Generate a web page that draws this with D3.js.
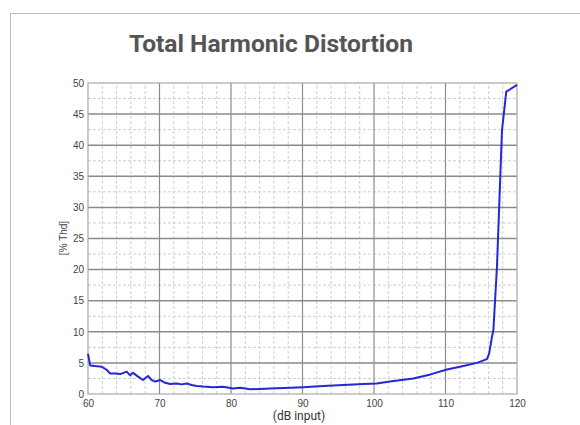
<!DOCTYPE html>
<html>
<head>
<meta charset="utf-8">
<script src="https://cdn.jsdelivr.net/npm/d3@7"></script>
<style>
  body { margin: 0; background: #fff; }
  svg { display: block; }
</style>
</head>
<body>
<div id="chart"></div>
<script>
const title = "Total Harmonic Distortion";
const xLabel = "(dB input)";
const yLabel = "[% Thd]";
const xTicks = [60, 70, 80, 90, 100, 110, 120];
const yTicks = [0, 5, 10, 15, 20, 25, 30, 35, 40, 45, 50];

// curve: input level (dB) and THD (%)
const dbInput = [60, 60.3, 61, 61.9, 62.6, 63.1, 63.8, 64.5, 65.4, 65.9, 66.3, 67.0, 67.7,
  68.4, 68.9, 69.4, 70.1, 70.8, 71.5, 72.4, 73.1, 73.8, 74.5, 75.2, 76.1, 77.5, 78.9, 80.3,
  81.3, 82.7, 85.5, 88.3, 90.1, 92.9, 95.7, 98.5, 100.4, 102.2, 105.5, 107.9, 110.2, 112.5,
  114.4, 115.8, 116.1, 116.5, 116.7, 117.2, 117.9, 118.5, 120];
const thd = [6.5, 4.6, 4.5, 4.4, 3.9, 3.3, 3.3, 3.2, 3.6, 3.0, 3.4, 2.8, 2.25,
  2.9, 2.25, 2.0, 2.25, 1.8, 1.6, 1.7, 1.55, 1.7, 1.45, 1.3, 1.2, 1.1, 1.15, 0.9,
  1.0, 0.75, 0.9, 1.0, 1.1, 1.3, 1.45, 1.6, 1.7, 2.0, 2.5, 3.15, 3.95, 4.5,
  5.0, 5.6, 6.5, 9.2, 10.3, 20.5, 42.4, 48.6, 49.7];

const W = 580, H = 425;
const margin = { left: 88, right: 63, top: 83, bottom: 31 };

const svg = d3.select("#chart").append("svg")
  .attr("width", W)
  .attr("height", H);

// outer frame
svg.append("path")
  .attr("d", `M10.5,${H} V13.5 H${W}`)
  .attr("fill", "none")
  .attr("stroke", "#bdbdbd")
  .attr("stroke-width", 1);

const x = d3.scaleLinear().domain([60, 120]).range([margin.left, W - margin.right]);
const y = d3.scaleLinear().domain([0, 50]).range([H - margin.bottom, margin.top]);

// minor grid
svg.append("g").selectAll("line")
  .data(d3.range(62, 120, 2).filter(v => v % 10 !== 0))
  .join("line")
  .attr("x1", d => x(d)).attr("x2", d => x(d))
  .attr("y1", y(0)).attr("y2", y(50))
  .attr("stroke", "#cfcfcf")
  .attr("stroke-dasharray", "3,2");

svg.append("g").selectAll("line")
  .data(d3.range(2.5, 50, 5))
  .join("line")
  .attr("x1", x(60)).attr("x2", x(120))
  .attr("y1", d => y(d)).attr("y2", d => y(d))
  .attr("stroke", "#cfcfcf")
  .attr("stroke-dasharray", "3,2");

// major grid
svg.append("g").selectAll("line")
  .data(xTicks.slice(1, -1))
  .join("line")
  .attr("x1", d => x(d)).attr("x2", d => x(d))
  .attr("y1", y(0)).attr("y2", y(50))
  .attr("stroke", "#8c8c8c")
  .attr("stroke-width", 1.2);

svg.append("g").selectAll("line")
  .data(yTicks.slice(1, -1))
  .join("line")
  .attr("x1", x(60)).attr("x2", x(120))
  .attr("y1", d => y(d)).attr("y2", d => y(d))
  .attr("stroke", "#8a8a8a")
  .attr("stroke-width", 1.5);

// plot frame
svg.append("rect")
  .attr("x", x(60)).attr("y", y(50))
  .attr("width", x(120) - x(60))
  .attr("height", y(0) - y(50))
  .attr("fill", "none")
  .attr("stroke", "#a8a8a8")
  .attr("stroke-width", 1.2);

// axes (labels only)
const xAxis = svg.append("g")
  .attr("transform", `translate(0,${y(0)})`)
  .call(d3.axisBottom(x).tickValues(xTicks).tickSize(0).tickPadding(6));
const yAxis = svg.append("g")
  .attr("transform", `translate(${x(60)},0)`)
  .call(d3.axisLeft(y).tickValues(yTicks).tickSize(0).tickPadding(4));
[xAxis, yAxis].forEach(a => {
  a.select(".domain").remove();
  a.selectAll("text")
    .style("font-family", "Liberation Sans, Arial, sans-serif")
    .style("font-size", "10px")
    .attr("fill", "#444");
});

// curve
const line = d3.line()
  .x((d, i) => x(dbInput[i]))
  .y(d => y(d));

svg.append("path")
  .datum(thd)
  .attr("d", line)
  .attr("fill", "none")
  .attr("stroke", "#2626d6")
  .attr("stroke-width", 2)
  .attr("stroke-linejoin", "round");

// titles
svg.append("text")
  .attr("x", 271).attr("y", 52)
  .attr("text-anchor", "middle")
  .attr("textLength", 284)
  .attr("lengthAdjust", "spacingAndGlyphs")
  .style("font-family", "Roboto, sans-serif")
  .style("font-weight", "700")
  .style("font-size", "24px")
  .attr("fill", "#555")
  .text(title);

svg.append("text")
  .attr("x", 299).attr("y", 420)
  .attr("text-anchor", "middle")
  .style("font-family", "Roboto, sans-serif")
  .style("font-size", "12px")
  .attr("fill", "#333")
  .text(xLabel);

svg.append("text")
  .attr("transform", "translate(67,238) rotate(-90)")
  .attr("text-anchor", "middle")
  .style("font-family", "Liberation Sans, Arial, sans-serif")
  .style("font-size", "10px")
  .attr("fill", "#444")
  .text(yLabel);
</script>
</body>
</html>
